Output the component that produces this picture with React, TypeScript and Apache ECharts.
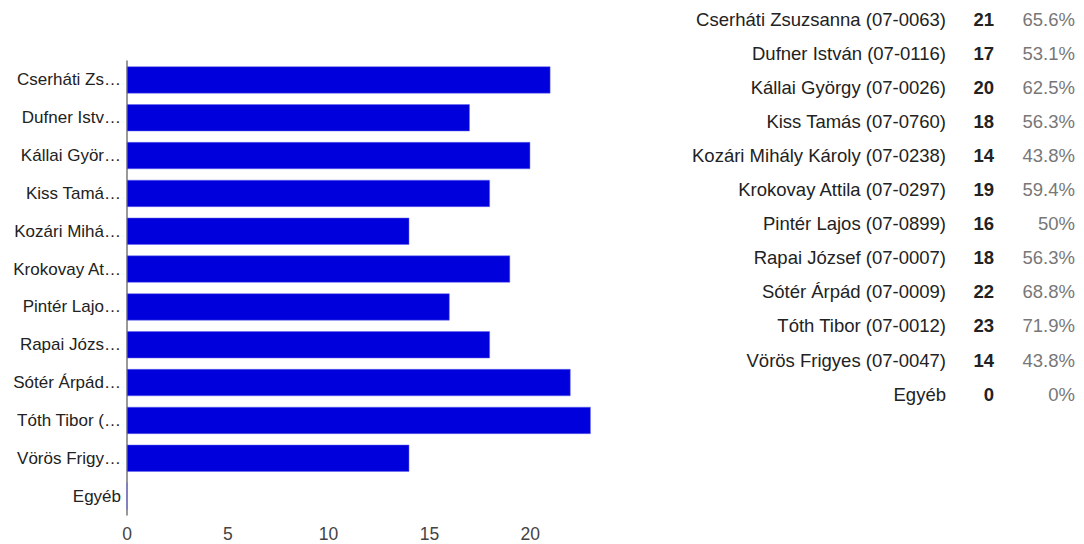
import React, { useEffect, useRef } from "react";
import * as echarts from "echarts";

const categories = [
  "Cserháti Zsuzsanna (07-0063)",
  "Dufner István (07-0116)",
  "Kállai György (07-0026)",
  "Kiss Tamás (07-0760)",
  "Kozári Mihály Károly (07-0238)",
  "Krokovay Attila (07-0297)",
  "Pintér Lajos (07-0899)",
  "Rapai József (07-0007)",
  "Sótér Árpád (07-0009)",
  "Tóth Tibor (07-0012)",
  "Vörös Frigyes (07-0047)",
  "Egyéb",
];
const shortLabels = [
  "Cserháti Zs…",
  "Dufner Istv…",
  "Kállai Györ…",
  "Kiss Tamá…",
  "Kozári Mihá…",
  "Krokovay At…",
  "Pintér Lajo…",
  "Rapai Józs…",
  "Sótér Árpád…",
  "Tóth Tibor (…",
  "Vörös Frigy…",
  "Egyéb",
];
const counts = [21, 17, 20, 18, 14, 19, 16, 18, 22, 23, 14, 0];
const percents = ["65.6%", "53.1%", "62.5%", "56.3%", "43.8%", "59.4%", "50%", "56.3%", "68.8%", "71.9%", "43.8%", "0%"];

const FONT = "'Liberation Sans', Arial, sans-serif";

export default function App() {
  const ref = useRef<HTMLDivElement>(null);
  useEffect(() => {
    if (!ref.current) return;
    const chart = echarts.init(ref.current, undefined, { renderer: "svg" });
    const rowStart = 19.5;
    const rowStep = 34.05;
    const graphics: any[] = [];
    categories.forEach((c, i) => {
      const y = rowStart + i * rowStep;
      graphics.push({
        type: "text",
        x: 946,
        y,
        style: { text: c, align: "right", verticalAlign: "middle", font: `18.5px ${FONT}`, fill: "#222222" },
      });
      graphics.push({
        type: "text",
        x: 994,
        y,
        style: { text: String(counts[i]), align: "right", verticalAlign: "middle", font: `bold 18.5px ${FONT}`, fill: "#222222" },
      });
      graphics.push({
        type: "text",
        x: 1075,
        y,
        style: { text: percents[i], align: "right", verticalAlign: "middle", font: `18.5px ${FONT}`, fill: "#777777" },
      });
    });
    chart.setOption({
      animation: false,
      grid: { left: 127, top: 61, width: 504, height: 454, containLabel: false },
      xAxis: {
        type: "value",
        min: 0,
        max: 25,
        interval: 5,
        axisLine: { show: false },
        axisTick: { show: false },
        splitLine: { show: false },
        axisLabel: { showMaxLabel: false, color: "#444444", fontSize: 17.5, fontFamily: FONT, margin: 10 },
      },
      yAxis: {
        type: "category",
        inverse: true,
        data: categories,
        axisLine: { show: true, lineStyle: { color: "#777777", width: 1.5 } },
        axisTick: { show: false },
        axisLabel: {
          color: "#222222",
          fontSize: 17,
          fontFamily: FONT,
          margin: 6,
          formatter: (_v: string, idx: number) => shortLabels[idx],
        },
      },
      series: [
        {
          type: "bar",
          data: counts,
          barWidth: 27,
          itemStyle: { color: "#0000DC", borderColor: "#6666ee", borderWidth: 0.5 },
        },
      ],
      graphic: graphics,
    });
    return () => chart.dispose();
  }, []);
  return <div ref={ref} style={{ position: "fixed", left: 0, top: 0, width: 1084, height: 544, background: "#fff" }} />;
}
